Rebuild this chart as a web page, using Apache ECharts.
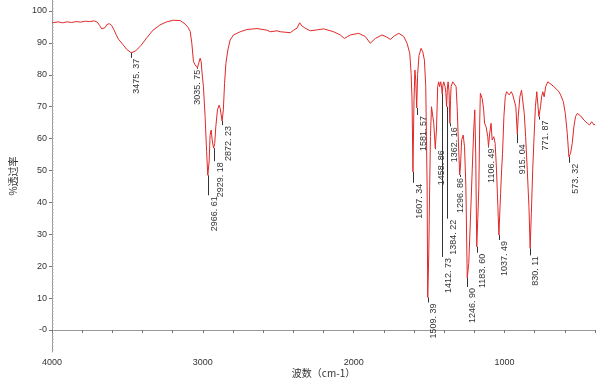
<!DOCTYPE html>
<html>
<head>
<meta charset="utf-8">
<script src="https://cdn.jsdelivr.net/npm/echarts@6/dist/echarts.min.js"></script>
<style>html,body{margin:0;padding:0;background:#fff}#chart{width:600px;height:378px}</style>
</head>
<body>
<div id="chart"></div>
<script>
// ---- data ----
const wavenumber = [3998,3960,3930,3900,3870,3840,3810,3780,3750,3720,3700,3685,3670,3660,3648,3635,3620,3605,3590,3575,3560,3530,3505,3475,3445,3410,3370,3330,3285,3240,3195,3150,3117,3097,3084,3073,3062,3051,3043,3036,3025,3018,3011,3005,2996,2985,2975,2967,2958,2952,2945,2938,2929,2921,2914,2903,2892,2885,2872,2864,2856,2847,2834,2819,2797,2774,2752,2708,2641,2575,2553,2508,2487,2442,2420,2398,2376,2358,2343,2321,2288,2240,2199,2133,2089,2062,2040,2022,1967,1923,1890,1856,1812,1780,1757,1730,1701,1668,1646,1628,1619,1613,1607,1600,1594,1588,1582,1576,1567,1553,1542,1531,1522,1513,1509,1502,1496,1491,1484,1478,1469,1459,1451,1443,1436,1430,1423,1418,1413,1408,1403,1394,1389,1384,1379,1374,1368,1362,1358,1354,1343,1330,1321,1314,1307,1301,1297,1292,1284,1274,1265,1256,1247,1237,1226,1214,1204,1197,1191,1184,1177,1170,1164,1160,1148,1138,1132,1122,1111,1106,1098,1089,1082,1071,1062,1053,1044,1037,1026,1019,1013,1004,995,986,977,969,955,945,933,925,915,909,898,887,878,869,860,849,838,830,822,813,804,795,786,779,772,761,754,746,737,727,713,699,673,639,628,610,597,584,573,562,551,540,529,517,495,473,451,436,422,416,407,400];
const transmittance = [96.3,96.6,96.3,96.6,96.4,96.7,96.5,96.8,96.7,96.9,96.5,95.5,94.4,94.2,94.8,95.8,96.0,95.5,94.2,92.6,91.2,89.5,88.0,86.9,87.5,89.2,91.7,94.0,95.6,96.6,97.1,97.0,95.9,94.8,93.6,89.9,84.1,83.1,83.6,82.2,84.0,85.2,84.1,80.5,76.3,66.9,56.0,48.5,53.0,61.0,62.7,59.6,57.0,58.5,63.7,69.0,70.5,69.5,65.5,69.0,77.3,83.6,87.8,90.9,92.5,93.0,93.5,94.2,94.5,94.0,93.5,93.8,93.5,93.3,93.2,94.0,94.6,96.3,95.3,94.6,93.8,94.1,94.4,93.5,92.5,91.4,92.0,92.5,93.0,92.0,89.9,91.4,92.5,91.8,91.1,92.2,93.0,92.0,89.9,86.7,80.4,72.1,49.6,72.0,81.5,78.0,69.6,80.0,86.0,88.3,87.2,84.6,76.3,44.9,10.2,24.1,44.9,60.6,70.0,69.5,64.8,57.0,62.7,76.3,77.8,76.3,77.8,76.5,74.0,76.8,77.8,76.3,74.5,70.0,75.5,77.8,75.0,64.8,72.0,76.3,77.8,77.8,76.3,70.0,60.6,53.3,48.6,51.2,59.6,61.1,57.5,44.9,16.3,20.9,34.5,50.2,62.7,69.0,55.5,26.1,35.0,44.9,65.8,74.2,72.6,69.0,64.8,63.7,60.6,57.5,61.7,64.8,59.6,60.6,58.5,50.2,38.7,29.8,42.8,50.2,55.4,66.9,73.1,74.7,75.0,73.7,74.7,73.7,74.2,70.0,61.4,66.9,73.1,75.2,74.7,67.9,60.6,50.2,38.7,25.6,36.6,50.2,60.6,70.0,74.7,74.2,66.9,70.0,73.1,74.7,73.1,76.3,77.8,77.3,76.3,74.7,73.7,71.6,67.9,61.7,54.3,55.4,58.5,63.7,66.9,67.9,67.1,65.8,64.8,64.3,65.3,65.8,64.3,64.5];

const peakWavenumber = [3475.37,3035.75,2966.61,2929.18,2872.23,1607.34,1581.57,1509.39,1458.86,1412.73,1384.22,1362.16,1296.86,1246.90,1183.60,1106.49,1037.49,915.04,830.11,771.87,573.32];
const peakTransmittance = [86.9,82.2,48.5,57.0,65.5,49.6,69.6,10.2,57.0,74.0,70.0,64.8,48.6,16.3,26.1,57.5,29.8,61.4,25.6,66.9,54.3];
const peakLabels = ['3475. 37','3035. 75','2966. 61','2929. 18','2872. 23','1607. 34','1581. 57','1509. 39','1458. 86','1412. 73','1384. 22','1362. 16','1296. 86','1246. 90','1183. 60','1106. 49','1037. 49','915. 04','830. 11','771. 87','573. 32'];

const xLabelValues = [4000,3000,2000,1000];
const xTickValues = [4000,3800,3600,3400,3200,3000,2800,2600,2400,2200,2000,1800,1600,1400,1200,1000,800,600,400];
const yLabelValues = [0,10,20,30,40,50,60,70,80,90,100];

// ---- layout (pixels) for the peak annotations ----
const leaderLength = [5,1,20,13,4,11,7,5,1,163,112,3,2,9,6,1,5,9,7,3,6];
const labelShift = [1,-4,1.5,1.5,1.5,1.5,1.5,1,1.5,1.5,1.5,0,-4,1,1,-1.5,1,0.5,1,1.5,1.5];

const yMinorTicks = [];
for (let v = -6; v <= 103; v += 1) yMinorTicks.push(v);

const chart = echarts.init(document.getElementById('chart'), null, {renderer: 'canvas'});
const FONT = 'Liberation Sans';
const spectrum = wavenumber.map((w, i) => [w, transmittance[i]]);
const peaks = peakWavenumber.map((w, i) => [w, peakTransmittance[i]]);

chart.setOption({
  animation: false,
  grid: {left: 52, right: 5, top: 0, bottom: 26, containLabel: false, outerBoundsMode: 'none'},
  xAxis: [{
    type: 'value', min: 400, max: 4000, inverse: true, position: 'bottom',
    name: '波数（cm-1）', nameLocation: 'middle', nameGap: 16, nameMoveOverlap: false,
    nameTextStyle: {fontFamily: 'Noto Sans CJK SC', fontSize: 10, color: '#333'},
    axisLine: {lineStyle: {color: '#999', width: 1}},
    axisTick: {show: true, length: 3, customValues: xTickValues, lineStyle: {color: '#777'}},
    axisLabel: {customValues: xLabelValues, fontFamily: FONT, fontSize: 9, color: '#333', margin: 6,
      formatter: v => String(v)},
    splitLine: {show: false}
  }],
  yAxis: [{
    type: 'value', min: -6.9, max: 103.45, position: 'left',
    name: '%透过率', nameLocation: 'middle', nameGap: 34, nameMoveOverlap: false,
    nameTextStyle: {fontFamily: 'Noto Sans CJK SC', fontSize: 10, color: '#333'},
    axisLine: {show: true, lineStyle: {color: '#999', width: 1}},
    axisTick: {show: true, length: 3, customValues: yLabelValues, lineStyle: {color: '#777'}},
    axisLabel: {customValues: yLabelValues, fontFamily: FONT, fontSize: 9, color: '#333', margin: 5,
      formatter: v => (v === 0 ? '-0' : String(v))},
    splitLine: {show: false}
  }, {
    type: 'value', min: -6.9, max: 103.45, position: 'left', offset: 0,
    axisLine: {show: false},
    axisTick: {show: true, length: 1.5, inside: true, customValues: yMinorTicks, lineStyle: {color: '#aaa'}},
    axisLabel: {show: false},
    splitLine: {show: false}
  }],
  series: [{
    type: 'line', data: spectrum, xAxisIndex: 0, yAxisIndex: 0,
    showSymbol: false, symbol: 'none', smooth: false,
    lineStyle: {color: '#e02828', width: 1},
    z: 3
  }, {
    type: 'custom', data: peaks, xAxisIndex: 0, yAxisIndex: 0, z: 4,
    renderItem: function (params, api) {
      const i = params.dataIndex;
      const p = api.coord([api.value(0), api.value(1)]);
      const len = leaderLength[i];
      const x = Math.round(p[0]) + 0.5;
      return {
        type: 'group',
        children: [{
          type: 'line',
          shape: {x1: x, y1: p[1], x2: x, y2: p[1] + len},
          style: {stroke: '#333', lineWidth: 1}
        }, {
          type: 'text',
          x: x + labelShift[i], y: p[1] + len + 1,
          rotation: Math.PI / 2,
          style: {text: peakLabels[i], align: 'right', verticalAlign: 'top',
            fontFamily: FONT, fontSize: 9, fill: '#333'}
        }]
      };
    }
  }]
});
</script>
</body>
</html>
